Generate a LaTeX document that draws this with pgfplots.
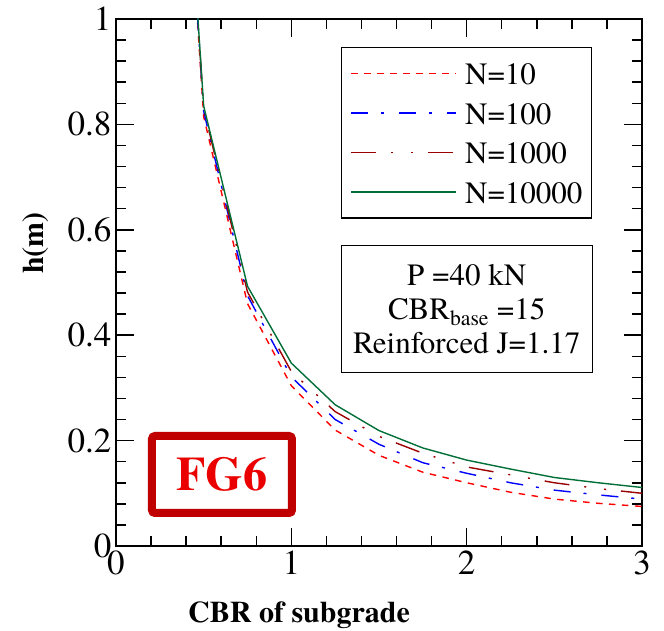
\documentclass[border=0pt]{standalone}
\usepackage{fontspec}
\setmainfont{texgyretermes}[Extension=.otf, UprightFont=*-regular, BoldFont=*-bold, ItalicFont=*-italic, BoldItalicFont=*-bolditalic]
\usepackage{pgfplots}
\pgfplotsset{compat=1.18}
\definecolor{cred}{RGB}{255,0,0}
\definecolor{cblue}{RGB}{0,0,255}
\definecolor{cdred}{RGB}{155,0,0}
\definecolor{cgreen}{RGB}{0,110,55}
\definecolor{fgdark}{RGB}{192,0,0}
\definecolor{fgred}{RGB}{235,0,0}
\begin{document}
\begin{tikzpicture}[x=1pt,y=1pt]
\useasboundingbox (0,0) rectangle (664,631);
\begin{axis}[
  at={(116pt,85pt)}, anchor=south west,
  scale only axis, width=526pt, height=527pt,
  xmin=0, xmax=3, ymin=0, ymax=1,
  xtick={0,1,2,3}, ytick={0,0.2,0.4,0.6,0.8,1},
  minor x tick num=4, minor y tick num=4,
  tick align=inside, major tick length=18pt, minor tick length=10pt,
  axis line style={line width=1.8pt},
  every tick/.style={line width=1.5pt, black},
  /pgf/number format/assume math mode=true,
  tick label style={font=\fontsize{35}{35}\selectfont},
  xticklabel style={yshift=-1pt},
  yticklabel style={xshift=-1pt},
  xlabel={CBR of subgrade}, ylabel={h(m)},
  label style={font=\fontsize{30}{30}\selectfont\bfseries},
  xlabel style={at={(axis description cs:0.348,-0.132)}, anchor=center},
  ylabel style={at={(axis description cs:-0.152,0.575)}, anchor=center},
  legend style={at={(rel axis cs:0.428,0.947)}, anchor=north west,
    draw=black, line width=1.2pt, font=\fontsize{31}{31}\selectfont,
    nodes={inner sep=0pt, text height=22pt, text depth=0pt},
    row sep=17.5pt, column sep=8pt, inner xsep=9pt, inner ysep=15pt,
    cells={anchor=west}},
  legend image code/.code={\draw[#1] (0pt,0pt) -- (105pt,0pt);},
]
\addplot[cred, line width=1.4pt, dash pattern=on 6.5pt off 6.5pt] coordinates {
(0.25,2.1) (0.5,0.815) (0.75,0.46) (1,0.304) (1.25,0.220) (1.5,0.172) (1.75,0.140) (2,0.120) (2.25,0.102) (2.5,0.089) (2.75,0.081) (3,0.075)};
\addlegendentry{N=10}
\addplot[cblue, line width=1.4pt, dash pattern=on 17pt off 13pt on 3pt off 15pt] coordinates {
(0.25,2.1) (0.5,0.825) (0.75,0.475) (1,0.321) (1.25,0.240) (1.5,0.193) (1.75,0.158) (2,0.138) (2.25,0.120) (2.5,0.106) (2.75,0.097) (3,0.089)};
\addlegendentry{N=100}
\addplot[cdred, line width=1.4pt, dash pattern=on 25pt off 15pt on 2pt off 18pt on 2pt off 15pt] coordinates {
(0.25,2.1) (0.5,0.83) (0.75,0.482) (1,0.331) (1.25,0.255) (1.5,0.208) (1.75,0.176) (2,0.150) (2.25,0.135) (2.5,0.120) (2.75,0.109) (3,0.100)};
\addlegendentry{N=1000}
\addplot[cgreen, line width=1.4pt] coordinates {
(0.25,2.1) (0.5,0.835) (0.75,0.493) (1,0.347) (1.25,0.268) (1.5,0.219) (1.75,0.186) (2,0.163) (2.25,0.146) (2.5,0.130) (2.75,0.120) (3,0.111)};
\addlegendentry{N=10000}
\node[draw=black, line width=1.2pt, fill=white, minimum width=251pt, minimum height=127pt,
  align=center, font=\fontsize{31}{34}\selectfont, inner sep=0pt]
  at (axis cs:2.0,0.449) {P =40 kN\\CBR\textsubscript{base} =15\\Reinforced J=1.17};
\node[draw=fgdark, line width=8pt, rounded corners=3pt, fill=white,
  minimum width=140pt, minimum height=77pt, text=fgred,
  font=\fontsize{48}{48}\selectfont\bfseries]
  at (rel axis cs:0.2015,0.1357) {FG6};
\end{axis}
\end{tikzpicture}
\end{document}
